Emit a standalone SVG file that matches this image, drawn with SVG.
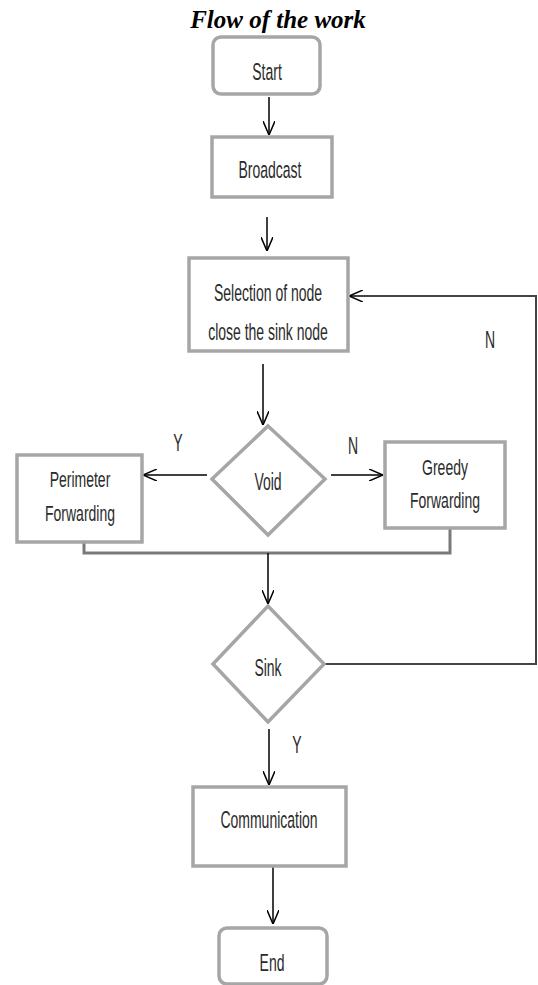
<svg xmlns="http://www.w3.org/2000/svg" width="538" height="985" viewBox="0 0 538 985">
<style>
.box{fill:#fff;stroke:#a6a6a6;stroke-width:3.5}
.t{font-family:"Liberation Sans",Arial,sans-serif;font-size:14px;fill:#2b2b2b;text-anchor:middle}
.c{fill:none;stroke:#000;stroke-width:1.5}
.g{fill:none;stroke:#7a7a7a;stroke-width:3}
.r{fill:none;stroke:#444;stroke-width:2}
.title{font-family:"Liberation Serif","Times New Roman",serif;font-size:25px;font-weight:bold;font-style:italic;text-anchor:middle;fill:#000}
</style>
<defs>
<marker id="ah" viewBox="0 0 14 12" refX="14" refY="6" markerWidth="14" markerHeight="12" markerUnits="userSpaceOnUse" orient="auto">
<path d="M0,0 L14,6 L0,12" fill="none" stroke="#000" stroke-width="1.5"/>
</marker>
</defs>
<rect width="538" height="985" fill="#fff"/>
<text class="title" x="278" y="28">Flow of the work</text>

<g id="connectors">
<path class="c" d="M269,97 V135" marker-end="url(#ah)"/>
<path class="c" d="M267,217 V251" marker-end="url(#ah)"/>
<path class="c" d="M263,364 V425" marker-end="url(#ah)"/>
<path class="c" d="M207,475 H143" marker-end="url(#ah)"/>
<path class="c" d="M331,475 H383" marker-end="url(#ah)"/>
<path class="g" d="M84,532 V553 H450 V529"/>
<path class="c" d="M268,553 V604" marker-end="url(#ah)"/>
<path class="r" d="M324,664 H536 V296 H351"/>
<path class="c" d="M352,296 H349" marker-end="url(#ah)"/>
<path class="c" d="M269,729 V785" marker-end="url(#ah)"/>
<path class="c" d="M273,862 V924" marker-end="url(#ah)"/>
<text class="t" transform="translate(490,340) scale(1,1.65)" y="5">N</text>
<text class="t" transform="translate(178,443) scale(1,1.65)" y="5">Y</text>
<text class="t" transform="translate(353,446) scale(1,1.65)" y="5">N</text>
<text class="t" transform="translate(297,745) scale(1,1.65)" y="5">Y</text>
</g>

<g id="start">
<rect class="box" x="213" y="37" width="107" height="57" rx="8"/>
<text class="t" transform="translate(267,72) scale(1,1.65)" y="5" font-size="15">Start</text>
</g>
<g id="broadcast">
<rect class="box" x="212" y="137" width="120" height="60"/>
<text class="t" transform="translate(270,170) scale(1,1.65)" y="5">Broadcast</text>
</g>
<g id="selection">
<rect class="box" x="189" y="258" width="159" height="93"/>
<text class="t" transform="translate(268,293) scale(1,1.65)" y="5">Selection of node</text>
<text class="t" transform="translate(268,332) scale(1,1.65)" y="5">close the sink node</text>
</g>
<g id="void">
<path class="box" d="M268,426 L325,479 L268,535 L212,479 Z"/>
<text class="t" transform="translate(268,481) scale(1,1.75)" y="5" font-size="15">Void</text>
</g>
<g id="perimeter">
<rect class="box" x="17" y="455" width="125" height="87"/>
<text class="t" transform="translate(80,479) scale(1,1.6)" y="5">Perimeter</text>
<text class="t" transform="translate(80,513) scale(1,1.6)" y="5">Forwarding</text>
</g>
<g id="greedy">
<rect class="box" x="385" y="442" width="120" height="86"/>
<text class="t" transform="translate(445,467) scale(1,1.6)" y="5">Greedy</text>
<text class="t" transform="translate(445,500) scale(1,1.6)" y="5">Forwarding</text>
</g>
<g id="sink">
<path class="box" d="M268,606 L324,664 L268,722 L213,664 Z"/>
<text class="t" transform="translate(268,667) scale(1,1.75)" y="5" font-size="15">Sink</text>
</g>
<g id="communication">
<rect class="box" x="193" y="787" width="153" height="79"/>
<text class="t" transform="translate(269,820) scale(1,1.65)" y="5">Communication</text>
</g>
<g id="end">
<rect class="box" x="219" y="928" width="108" height="56" rx="8"/>
<text class="t" transform="translate(272,963) scale(1,1.65)" y="5" font-size="15">End</text>
</g>
</svg>
